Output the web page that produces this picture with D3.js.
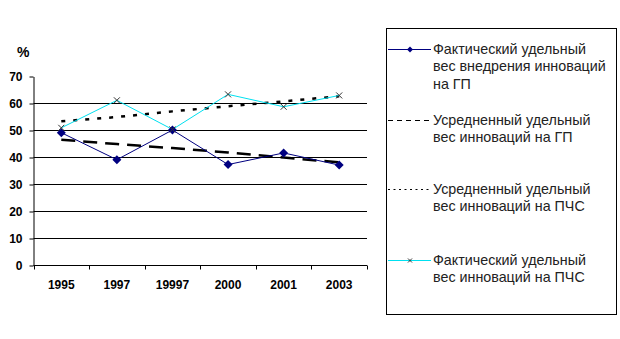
<!DOCTYPE html>
<html>
<head>
<meta charset="utf-8">
<script src="https://cdn.jsdelivr.net/npm/d3@7"></script>
<style>
  html, body { margin: 0; padding: 0; background: #fff; }
  svg { display: block; }
</style>
</head>
<body>
<svg id="chart" width="620" height="339"></svg>
<script>
// Categories (years) and series values, %
const years = ["1995", "1997", "19997", "2000", "2001", "2003"];
const factGP = [49, 39, 50, 37.2, 41.5, 37];
const avgGP = [46.4, 44.8, 43.3, 41.7, 39.8, 38.0];
const avgPCS = [53.2, 54.8, 56.9, 58.8, 60.6, 62.5];
const factPCS = [50.8, 61, 50.2, 63.2, 58.6, 62.8];
const yTicks = [0, 10, 20, 30, 40, 50, 60, 70];
const legendLabels = [
  ["Фактический удельный", "вес внедрения инноваций", "на ГП"],
  ["Усредненный удельный", "вес инноваций на ГП"],
  ["Усредненный удельный", "вес инноваций на ПЧС"],
  ["Фактический удельный", "вес инноваций на ПЧС"]
];

const svg = d3.select("#chart");
const font = "Liberation Sans, Arial, sans-serif";

const x = d3.scaleBand().domain(years).range([33.5, 367]);
const y = d3.scaleLinear().domain([0, 70]).range([265, 76]);
const cx = d => x(d) + x.bandwidth() / 2;

// Horizontal gridlines (10..60)
svg.append("g").selectAll("line")
  .data(yTicks.filter(t => t > 0 && t < 70))
  .join("line")
  .attr("x1", 33.5).attr("x2", 367)
  .attr("y1", d => Math.round(y(d)) + 0.5).attr("y2", d => Math.round(y(d)) + 0.5)
  .attr("stroke", "#000").attr("stroke-width", 1);

// Y axis
const yAxis = svg.append("g")
  .attr("transform", "translate(33.5,0.5)")
  .call(d3.axisLeft(y).tickValues(yTicks).tickSize(4).tickSizeOuter(0).tickPadding(7));
yAxis.select(".domain").attr("stroke", "#000");
yAxis.selectAll(".tick line").attr("stroke", "#000");
yAxis.selectAll(".tick text")
  .attr("font-family", font).attr("font-size", 12).attr("font-weight", "bold")
  .attr("fill", "#000").attr("dy", "0.36em");

// X axis with ticks between categories
const xAxis = svg.append("g").attr("transform", "translate(0,265.5)");
xAxis.append("line").attr("x1", 33.5).attr("x2", 367).attr("stroke", "#000");
xAxis.selectAll("line.tk")
  .data(years.map(d => x(d)).concat([x.range()[1]]))
  .join("line").attr("class", "tk")
  .attr("x1", d => Math.round(d) + 0.5).attr("x2", d => Math.round(d) + 0.5)
  .attr("y1", 0).attr("y2", 4).attr("stroke", "#000");
xAxis.selectAll("text")
  .data(years).join("text")
  .attr("x", d => cx(d)).attr("y", 23)
  .attr("text-anchor", "middle")
  .attr("font-family", font).attr("font-size", 12).attr("font-weight", "bold")
  .text(d => d);

// "%" unit label
svg.append("text").attr("x", 17).attr("y", 57)
  .attr("font-family", font).attr("font-size", 14).attr("font-weight", "bold")
  .text("%");

const line = d3.line().x((d, i) => cx(years[i])).y(d => y(d));

// Trend lines
svg.append("path").datum(avgGP).attr("d", line)
  .attr("fill", "none").attr("stroke", "#000").attr("stroke-width", 2.5)
  .attr("stroke-dasharray", "14,8");
svg.append("path").datum(avgPCS).attr("d", line)
  .attr("fill", "none").attr("stroke", "#000").attr("stroke-width", 2.5)
  .attr("stroke-dasharray", "4,8");

// Actual series
svg.append("path").datum(factGP).attr("d", line)
  .attr("fill", "none").attr("stroke", "#000080").attr("stroke-width", 1);
svg.append("path").datum(factPCS).attr("d", line)
  .attr("fill", "none").attr("stroke", "#00e0f0").attr("stroke-width", 1);

const diamond = (px, py, r) => `M${px},${py - r}L${px + r},${py}L${px},${py + r}L${px - r},${py}Z`;
const cross = (px, py, r) => `M${px - r},${py - r}L${px + r},${py + r}M${px - r},${py + r}L${px + r},${py - r}`;

svg.append("g").selectAll("path")
  .data(factGP).join("path")
  .attr("d", (d, i) => diamond(cx(years[i]), y(d), 4.5))
  .attr("fill", "#000080");
svg.append("g").selectAll("path")
  .data(factPCS).join("path")
  .attr("d", (d, i) => cross(cx(years[i]), y(d), 3))
  .attr("stroke", "#333").attr("stroke-width", 1).attr("fill", "none");

// Legend
const lg = svg.append("g");
lg.append("rect").attr("x", 386.5).attr("y", 28.5).attr("width", 230).attr("height", 286)
  .attr("fill", "#fff").attr("stroke", "#000").attr("stroke-width", 1);

const legendY = [49, 120, 189, 260];
const styles = [
  { stroke: "#000080", dash: null, w: 1, marker: "diamond" },
  { stroke: "#000", dash: "5,4", w: 1, marker: null },
  { stroke: "#000", dash: "2,3.5", w: 1, marker: null },
  { stroke: "#00e0f0", dash: null, w: 1, marker: "cross" }
];
legendLabels.forEach((lines, i) => {
  const ly = legendY[i];
  const s = styles[i];
  lg.append("line").attr("x1", 388).attr("x2", 431).attr("y1", ly + 0.5).attr("y2", ly + 0.5)
    .attr("stroke", s.stroke).attr("stroke-width", s.w)
    .attr("stroke-dasharray", s.dash);
  if (s.marker === "diamond") lg.append("path").attr("d", diamond(410, ly + 0.5, 3)).attr("fill", "#000080");
  if (s.marker === "cross") lg.append("path").attr("d", cross(410, ly + 0.5, 2)).attr("stroke", "#333").attr("fill", "none");
  const t = lg.append("text").attr("font-family", font).attr("font-size", 14.3).attr("fill", "#222");
  lines.forEach((txt, k) => {
    t.append("tspan").attr("x", 433).attr("y", ly + 4.5 + k * 17.5).text(txt);
  });
});
</script>
</body>
</html>
